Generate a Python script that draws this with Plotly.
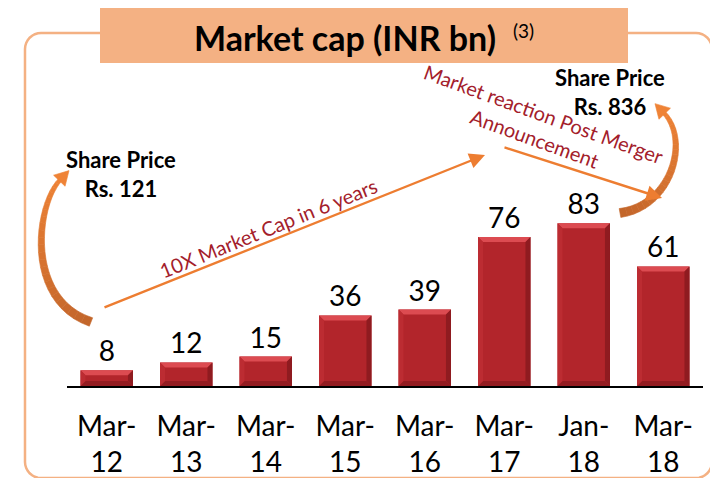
import plotly.graph_objects as go
import math

# ---------------- data ----------------
categories = ["Mar-12", "Mar-13", "Mar-14", "Mar-15", "Mar-16", "Mar-17", "Jan-18", "Mar-18"]
tick_labels = ["Mar-<br>12", "Mar-<br>13", "Mar-<br>14", "Mar-<br>15", "Mar-<br>16", "Mar-<br>17", "Jan-<br>18", "Mar-<br>18"]
market_cap = [8, 12, 15, 36, 39, 76, 83, 61]

# ---------------- geometry helpers (decoration only) ----------------
W, H = 718, 478
OFF = 8                      # page body margin offset
PLOT_L, PLOT_R, PLOT_T, PLOT_B = 67, 703, 190, 386   # target plot box in page pixels
ML, MR = PLOT_L - OFF, W - (PLOT_R - OFF)
MT, MB = PLOT_T - OFF, H - (PLOT_B - OFF)
PW, PH = PLOT_R - PLOT_L, PLOT_B - PLOT_T
Y_MAX = 100
BARGAP = 0.34

def P(x, y):
    """page pixel -> paper coordinates"""
    return (x - PLOT_L) / PW, (PLOT_B - y) / PH

def path_from_px(points, close=True):
    s = ""
    for i, (x, y) in enumerate(points):
        px, py = P(x, y)
        s += ("M" if i == 0 else "L") + f"{px:.5f},{py:.5f} "
    return s + ("Z" if close else "")

shapes = []

def rounded_rect(x0, y0, x1, y1, r):
    pts = []
    def arc(cx, cy, a0, a1):
        for k in range(9):
            a = math.radians(a0 + (a1 - a0) * k / 8)
            pts.append((cx + r * math.cos(a), cy + r * math.sin(a)))
    arc(x1 - r, y0 + r, -90, 0)
    arc(x1 - r, y1 - r, 0, 90)
    arc(x0 + r, y1 - r, 90, 180)
    arc(x0 + r, y0 + r, 180, 270)
    return path_from_px(pts)

BORDER = "#F4B183"
shapes.append(dict(type="path", xref="paper", yref="paper", layer="below",
                   path=rounded_rect(25, 33, 712, 478, 16),
                   line=dict(color=BORDER, width=2.5), fillcolor="rgba(0,0,0,0)"))
left_pts = [(-10, 33)]
for k in range(9):
    a = math.radians(-90 + 90 * k / 8)
    left_pts.append((-9 + 12 * math.cos(a), 45 + 12 * math.sin(a)))
left_pts.append((3, 490))
shapes.append(dict(type="path", xref="paper", yref="paper", layer="below",
                   path=path_from_px(left_pts, close=False),
                   line=dict(color=BORDER, width=2.5)))

# title box
bx0, by0 = P(100, 6)
bx1, by1 = P(628, 63)
shapes.append(dict(type="rect", xref="paper", yref="paper", x0=bx0, x1=bx1, y0=by1, y1=by0,
                   fillcolor="#F4B183", line=dict(width=0), layer="above"))

# bevel on bars (computed from the data values)
px_per_unit_y = PH / Y_MAX
px_per_cat = PW / len(categories)
half = (1 - BARGAP) / 2
dx = 5 / px_per_cat
dy = 5 / px_per_unit_y
for i, v in enumerate(market_cap):
    xl, xr = i - half, i + half
    bevels = [
        ([(xl, v), (xr, v), (xr - dx, v - dy), (xl + dx, v - dy)], "#DC4B51"),
        ([(xr, v), (xr, 0), (xr - dx, dy), (xr - dx, v - dy)], "#8F1B20"),
        ([(xl, 0), (xr, 0), (xr - dx, dy), (xl + dx, dy)], "#931C21"),
        ([(xl, v), (xl, 0), (xl + dx, dy), (xl + dx, v - dy)], "#BC2C32"),
    ]
    for pts, col in bevels:
        p = "".join(("M" if k == 0 else "L") + f"{x:.4f},{y:.4f} " for k, (x, y) in enumerate(pts)) + "Z"
        shapes.append(dict(type="path", xref="x", yref="y", path=p, fillcolor=col,
                           line=dict(width=0), layer="above"))

def lerp_col(c0, c1, t):
    a = [int(c0[i:i + 2], 16) for i in (1, 3, 5)]
    b = [int(c1[i:i + 2], 16) for i in (1, 3, 5)]
    return "#" + "".join(f"{round(a[k] + (b[k] - a[k]) * t):02X}" for k in range(3))

def curved_arrow(P0, P1, P2, P3, w0, w1, c0, c1, head_len=13, head_w=8, n=24):
    def bez(t):
        u = 1 - t
        x = u**3 * P0[0] + 3 * u * u * t * P1[0] + 3 * u * t * t * P2[0] + t**3 * P3[0]
        y = u**3 * P0[1] + 3 * u * u * t * P1[1] + 3 * u * t * t * P2[1] + t**3 * P3[1]
        return x, y
    pts = [bez(k / n) for k in range(n + 1)]
    def normal(k):
        a = pts[max(k - 1, 0)]
        b = pts[min(k + 1, n)]
        tx, ty = b[0] - a[0], b[1] - a[1]
        L = math.hypot(tx, ty)
        return -ty / L, tx / L
    for k in range(n):
        t0, t1 = k / n, (k + 1) / n
        wa = (w0 + (w1 - w0) * t0) / 2
        wb = (w0 + (w1 - w0) * t1) / 2
        na, nb = normal(k), normal(k + 1)
        a, b = pts[k], pts[k + 1]
        quad = [(a[0] + na[0] * wa, a[1] + na[1] * wa), (b[0] + nb[0] * wb, b[1] + nb[1] * wb),
                (b[0] - nb[0] * wb, b[1] - nb[1] * wb), (a[0] - na[0] * wa, a[1] - na[1] * wa)]
        col = lerp_col(c0, c1, (t0 + t1) / 2)
        shapes.append(dict(type="path", xref="paper", yref="paper", path=path_from_px(quad),
                           fillcolor=col, line=dict(color=col, width=0.6), layer="above"))
    tx, ty = P3[0] - P2[0], P3[1] - P2[1]
    L = math.hypot(tx, ty)
    tx, ty = tx / L, ty / L
    nx, ny = -ty, tx
    tip = (P3[0] + tx * head_len, P3[1] + ty * head_len)
    base = (P3[0] - tx * 1, P3[1] - ty * 1)
    tri = [tip, (base[0] + nx * head_w, base[1] + ny * head_w), (base[0] - nx * head_w, base[1] - ny * head_w)]
    shapes.append(dict(type="path", xref="paper", yref="paper", path=path_from_px(tri),
                       fillcolor=c1, line=dict(color=c1, width=0.6), layer="above"))

curved_arrow((91, 322), (25, 300), (36, 205), (60, 180), 9, 4, "#C2652A", "#EF8336")
curved_arrow((620, 213), (672, 206), (690, 140), (664, 113), 9, 4, "#C2652A", "#EF8336")

# ---------------- figure ----------------
fig = go.Figure()
fig.add_trace(go.Bar(
    x=categories, y=market_cap,
    marker=dict(color="#B2252B", line=dict(width=0)),
    texttemplate="%{y}", textposition="outside",
    textfont=dict(family="Lato", size=28, color="black"),
    cliponaxis=False, hoverinfo="skip",
))

annotations = []
def ann(text, x, y, **kw):
    px, py = P(x, y)
    d = dict(text=text, x=px, y=py, xref="paper", yref="paper", showarrow=False,
             xanchor="center", yanchor="middle")
    d.update(kw)
    annotations.append(d)

ann("<b>Market cap (INR bn)</b>", 345, 37, font=dict(family="Lato", size=34, color="black"))
ann("(3)", 523, 30, font=dict(family="Lato", size=19, color="black"))
ann("<b>Share Price<br>Rs. 121</b>", 121, 174, font=dict(family="Lato", size=22, color="black"))
ann("<b>Share Price<br>Rs. 836</b>", 610, 92, font=dict(family="Lato", size=22, color="black"))
ann("10X Market Cap in 6 years", 268, 228, textangle=-22,
    font=dict(family="Lato", size=20, color="#A3202B"))
ann("Market reaction Post Merger<br>Announcement", 539, 126, textangle=20,
    font=dict(family="Lato", size=20, color="#A3202B"))

def straight_arrow(tail, tip):
    px, py = P(*tip)
    annotations.append(dict(text="", x=px, y=py, xref="paper", yref="paper",
                            ax=tail[0] - tip[0], ay=tail[1] - tip[1], showarrow=True,
                            arrowhead=2, arrowsize=1.3, arrowwidth=2.4, arrowcolor="#ED7D31"))

straight_arrow((103, 308), (485, 155))
straight_arrow((503, 147), (662, 198))

fig.update_layout(
    width=W, height=H,
    margin=dict(l=ML, r=MR, t=MT, b=MB, autoexpand=False),
    paper_bgcolor="white", plot_bgcolor="white",
    bargap=BARGAP, showlegend=False,
    font=dict(family="Lato", color="black"),
    xaxis=dict(type="category", tickmode="array", tickvals=categories, ticktext=tick_labels,
               showline=True, linecolor="black", linewidth=2, ticks="outside", ticklen=14,
               tickcolor="rgba(0,0,0,0)", tickfont=dict(family="Lato", size=28, color="black"),
               showgrid=False, zeroline=False, fixedrange=True, automargin=False),
    yaxis=dict(range=[0, Y_MAX], visible=False, showgrid=False, zeroline=False, fixedrange=True,
               automargin=False),
    shapes=shapes, annotations=annotations,
)

fig.write_html("out.html")
